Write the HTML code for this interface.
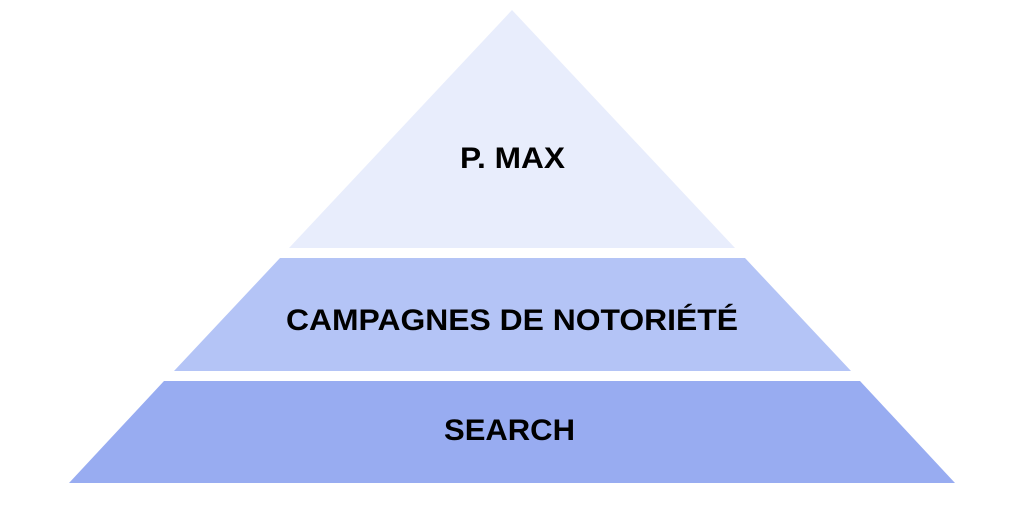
<!DOCTYPE html>
<html><head><meta charset="utf-8"><style>html,body{margin:0;padding:0;background:#fff}svg{display:block}</style></head>
<body>
<svg width="1024" height="511" viewBox="0 0 1024 511" xmlns="http://www.w3.org/2000/svg">
<rect width="1024" height="511" fill="#fff"/>
<polygon points="512,10 735,248 289,248" fill="#e8edfc"/>
<polygon points="280,258 745,258 851,371 174,371" fill="#b4c4f6"/>
<polygon points="164,381 860,381 955,483 69,483" fill="#98acf1"/>
<g font-family="Liberation Sans, sans-serif" font-weight="bold" font-size="30" fill="#000">
<text x="460" y="168" textLength="105" lengthAdjust="spacingAndGlyphs">P. MAX</text>
<text x="286" y="330" textLength="452" lengthAdjust="spacingAndGlyphs">CAMPAGNES DE NOTORIÉTÉ</text>
<text x="444" y="440" textLength="131" lengthAdjust="spacingAndGlyphs">SEARCH</text>
</g>
</svg>
</body></html>
